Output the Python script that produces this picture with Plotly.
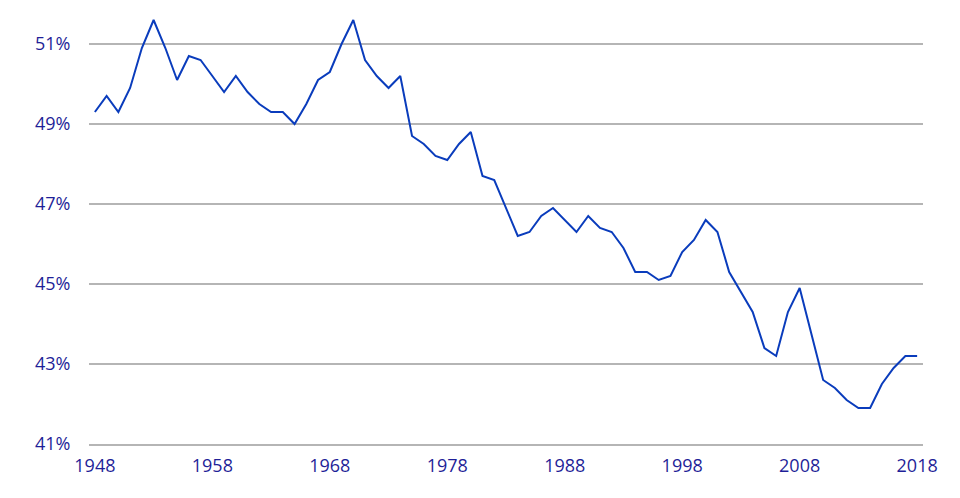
import plotly.graph_objects as go

years = list(range(1948, 2019))
share = [
    49.3, 49.7, 49.3, 49.9, 50.9, 51.6, 50.9, 50.1, 50.7, 50.6,  # 1948-1957
    50.2, 49.8, 50.2, 49.8, 49.5, 49.3, 49.3, 49.0, 49.5, 50.1,  # 1958-1967
    50.3, 51.0, 51.6, 50.6, 50.2, 49.9, 50.2, 48.7, 48.5, 48.2,  # 1968-1977
    48.1, 48.5, 48.8, 47.7, 47.6, 46.9, 46.2, 46.3, 46.7, 46.9,  # 1978-1987
    46.6, 46.3, 46.7, 46.4, 46.3, 45.9, 45.3, 45.3, 45.1, 45.2,  # 1988-1997
    45.8, 46.1, 46.6, 46.3, 45.3, 44.8, 44.3, 43.4, 43.2, 44.3,  # 1998-2007
    44.9, 43.75, 42.6, 42.4, 42.1, 41.9, 41.9, 42.5, 42.9, 43.2,  # 2008-2017
    43.2,  # 2018
]

x_ticks = list(range(1948, 2019, 10))
y_ticks = [41, 43, 45, 47, 49, 51]
y_labels = [f"{v}%" for v in y_ticks]

label_color = "#1f1f98"
grid_color = "#b5b5b5"

fig = go.Figure()
fig.add_trace(go.Scatter(
    x=years, y=share, mode="lines",
    line=dict(color="#0a3cbc", width=2),
    hoverinfo="x+y",
))

fig.update_layout(
    width=960, height=498,
    margin=dict(l=81, r=45, t=0, b=62),
    paper_bgcolor="white", plot_bgcolor="white",
    showlegend=False,
    font=dict(family="Open Sans", size=18, color=label_color),
)
fig.update_xaxes(
    range=[1947.5, 2018.5],
    tickvals=x_ticks, ticktext=[str(v) for v in x_ticks],
    showgrid=False, zeroline=False,
    showline=True, linecolor=grid_color, linewidth=1.5,
    ticks="outside", ticklen=5, tickcolor="rgba(0,0,0,0)",
    tickfont=dict(family="Open Sans", size=18, color=label_color),
)
fig.update_yaxes(
    range=[41, 51.9],
    tickvals=y_ticks, ticktext=y_labels,
    showgrid=True, gridcolor=grid_color, gridwidth=1.5,
    zeroline=False, showline=False,
    ticks="outside", ticklen=14, tickcolor="rgba(0,0,0,0)",
    tickfont=dict(family="Open Sans", size=18, color=label_color),
)

fig.write_html("out.html")
